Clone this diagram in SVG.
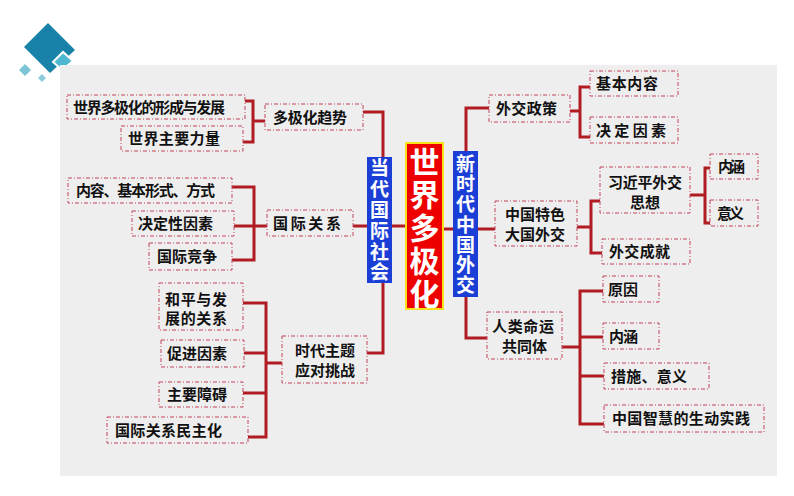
<svg xmlns="http://www.w3.org/2000/svg" width="794" height="496" viewBox="0 0 794 496">
<style>
.bx{fill:none;stroke:#c2455a;stroke-width:1;stroke-dasharray:4 2 1 2}
.t{font-family:"Noto Sans CJK SC","Noto Sans",sans-serif;font-size:15px;font-weight:700;fill:#111}
.ln{fill:none;stroke:#b01c22;stroke-width:3}
.vt{font-family:"Noto Sans CJK SC","Noto Sans",sans-serif;font-size:19px;font-weight:700;fill:#fff;text-anchor:middle;writing-mode:vertical-rl}
.big{font-family:"Noto Sans CJK SC","Noto Sans",sans-serif;font-size:30px;font-weight:700;fill:#fff;text-anchor:middle;writing-mode:vertical-rl;letter-spacing:3px}
</style>
<rect width="794" height="496" fill="#fff"/>
<g id="decor">
<polygon points="48,23 75,50 50,73 24,47" fill="#1882a8"/>
<polygon points="53,62 63,52 73,61 62,70" fill="#4db8cf" stroke="#fff" stroke-width="2"/>
<polygon points="19,70 25,64 31,70 25,76" fill="#7cc5d6"/>
<polygon points="38,78 42,74 46,78 42,82" fill="#8ccbd9"/>
</g>
<rect x="60" y="65" width="717" height="411" fill="#eeeeee"/>
<g id="connectors">
<path class="ln" d="M245,101 H253 V142 H243 M253,121 H265"/>
<path class="ln" d="M363,112 H383 V157"/>
<path class="ln" d="M232,187 H254 V260 H232 M234,226 H267"/>
<path class="ln" d="M353,226 H367"/>
<path class="ln" d="M392,226 H406"/>
<path class="ln" d="M443,229 H453"/>
<path class="ln" d="M383,283 V353 H367"/>
<path class="ln" d="M243,303 H266 V437 H248 M244,353 H266 M243,393 H266 M266,363 H282"/>
<path class="ln" d="M489,108 H466 V151"/>
<path class="ln" d="M590,87 H580 V137 H590 M570,111 H580"/>
<path class="ln" d="M478,229 H495"/>
<path class="ln" d="M600,201 H591 V253 H602 M577,227 H591"/>
<path class="ln" d="M710,168 H705 V223 H710 M690,195 H705"/>
<path class="ln" d="M466,297 V338 H487"/>
<path class="ln" d="M603,291 H580 V424 H604 M580,337 H603 M580,376 H604 M562,347 H580"/>
</g>
<g id="center">
<rect x="406" y="143" width="37" height="166" fill="#ee0000" stroke="#f7e11a" stroke-width="2"/>
<text class="big" x="424.5" y="229">世界多极化</text>
</g>
<g id="ddgjsh">
<rect x="367" y="157" width="25" height="126" fill="#1b3fd6"/>
<text class="vt" x="379.5" y="221" style="letter-spacing:1.8px">当代国际社会</text>
</g>
<g id="xsdzgwj">
<rect x="453" y="151" width="25" height="146" fill="#1b3fd6"/>
<text class="vt" x="465.5" y="225" style="letter-spacing:1.3px">新时代中国外交</text>
</g>
<g id="n1"><rect class="bx" x="67" y="95" width="178" height="24"/><text class="t" x="73" y="112.5" textLength="152" lengthAdjust="spacing">世界多极化的形成与发展</text></g>
<g id="n2"><rect class="bx" x="121" y="126" width="122" height="25"/><text class="t" x="128" y="144" textLength="92" lengthAdjust="spacing">世界主要力量</text></g>
<g id="n3"><rect class="bx" x="265" y="104" width="98" height="26"/><text class="t" x="273" y="122.5" textLength="74" lengthAdjust="spacing">多极化趋势</text></g>
<g id="n4"><rect class="bx" x="68" y="178" width="164" height="25"/><text class="t" x="76" y="196" textLength="139" lengthAdjust="spacing">内容、基本形式、方式</text></g>
<g id="n5"><rect class="bx" x="132" y="211" width="102" height="25"/><text class="t" x="138" y="229" textLength="75" lengthAdjust="spacing">决定性因素</text></g>
<g id="n6"><rect class="bx" x="149" y="243" width="83" height="27"/><text class="t" x="157" y="262" textLength="60" lengthAdjust="spacing">国际竞争</text></g>
<g id="n7"><rect class="bx" x="267" y="210" width="86" height="26"/><text class="t" x="273" y="228.5" textLength="68" lengthAdjust="spacing">国际关系</text></g>
<g id="n8"><rect class="bx" x="159" y="283" width="84" height="47"/><text class="t" x="165" y="304.5" textLength="62" lengthAdjust="spacing">和平与发</text><text class="t" x="165" y="323.5" textLength="62" lengthAdjust="spacing">展的关系</text></g>
<g id="n9"><rect class="bx" x="161" y="340" width="83" height="27"/><text class="t" x="167" y="359" textLength="60" lengthAdjust="spacing">促进因素</text></g>
<g id="n10"><rect class="bx" x="159" y="382" width="84" height="25"/><text class="t" x="167" y="400" textLength="60" lengthAdjust="spacing">主要障碍</text></g>
<g id="n11"><rect class="bx" x="107" y="417" width="141" height="26"/><text class="t" x="115" y="435.5" textLength="107" lengthAdjust="spacing">国际关系民主化</text></g>
<g id="n12"><rect class="bx" x="282" y="336" width="85" height="47"/><text class="t" x="295" y="355.5" textLength="60" lengthAdjust="spacing">时代主题</text><text class="t" x="295" y="375.5" textLength="60" lengthAdjust="spacing">应对挑战</text></g>
<g id="r1"><rect class="bx" x="489" y="95" width="81" height="27"/><text class="t" x="496" y="114" textLength="61" lengthAdjust="spacing">外交政策</text></g>
<g id="r2"><rect class="bx" x="590" y="71" width="88" height="25"/><text class="t" x="596" y="89" textLength="62" lengthAdjust="spacing">基本内容</text></g>
<g id="r3"><rect class="bx" x="590" y="117" width="88" height="26"/><text class="t" x="596" y="135.5" textLength="70" lengthAdjust="spacing">决定因素</text></g>
<g id="r4"><rect class="bx" x="495" y="201" width="82" height="45"/><text class="t" x="505" y="219.5" textLength="60" lengthAdjust="spacing">中国特色</text><text class="t" x="505" y="239.5" textLength="60" lengthAdjust="spacing">大国外交</text></g>
<g id="r5"><rect class="bx" x="600" y="167" width="90" height="46"/><text class="t" x="608" y="187.5" textLength="74" lengthAdjust="spacing">习近平外交</text><text class="t" x="630" y="207.5" textLength="30" lengthAdjust="spacing">思想</text></g>
<g id="r6"><rect class="bx" x="602" y="239" width="88" height="25"/><text class="t" x="609" y="257" textLength="61" lengthAdjust="spacing">外交成就</text></g>
<g id="r7"><rect class="bx" x="710" y="154" width="48" height="25"/><text class="t" x="718" y="172" textLength="27" lengthAdjust="spacing">内涵</text></g>
<g id="r8"><rect class="bx" x="710" y="200" width="48" height="26"/><text class="t" x="717" y="218.5" textLength="27" lengthAdjust="spacing">意义</text></g>
<g id="r9"><rect class="bx" x="487" y="312" width="75" height="47"/><text class="t" x="492" y="331.5" textLength="62" lengthAdjust="spacing">人类命运</text><text class="t" x="502" y="351.5" textLength="45" lengthAdjust="spacing">共同体</text></g>
<g id="r10"><rect class="bx" x="603" y="276" width="56" height="26"/><text class="t" x="608" y="294.5" textLength="30" lengthAdjust="spacing">原因</text></g>
<g id="r11"><rect class="bx" x="603" y="323" width="56" height="26"/><text class="t" x="609" y="341.5" textLength="29" lengthAdjust="spacing">内涵</text></g>
<g id="r12"><rect class="bx" x="604" y="363" width="105" height="26"/><text class="t" x="611" y="381.5" textLength="76" lengthAdjust="spacing">措施、意义</text></g>
<g id="r13"><rect class="bx" x="604" y="405" width="160" height="27"/><text class="t" x="612" y="424" textLength="138" lengthAdjust="spacing">中国智慧的生动实践</text></g>
</svg>
